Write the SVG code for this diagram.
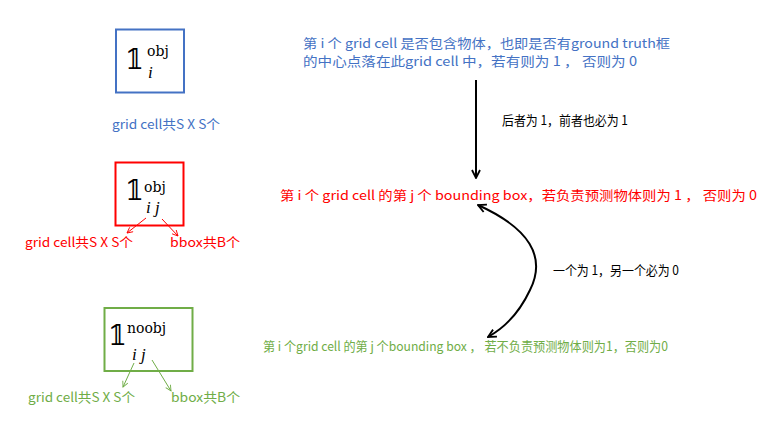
<svg xmlns="http://www.w3.org/2000/svg" width="779" height="422" viewBox="0 0 779 422">
<defs>
<style>
.t{font-family:"Noto Sans CJK SC","Noto Sans",sans-serif;font-size:13px}
.m{font-family:"DejaVu Serif","Liberation Serif",serif}
.mi{font-family:"Liberation Serif","DejaVu Serif",serif;font-style:italic}
.blue{fill:#4472C4}.red{fill:#FF0000}.green{fill:#70AD47}.blk{fill:#000}
</style>
<marker id="ar" viewBox="0 0 10 10" refX="9" refY="5" markerWidth="7" markerHeight="7" orient="auto-start-reverse" markerUnits="userSpaceOnUse"><path d="M1,1 L9,5 L1,9" fill="none" stroke="#FF0000" stroke-width="1.3"/></marker>
<marker id="ag" viewBox="0 0 10 10" refX="9" refY="5" markerWidth="7" markerHeight="7" orient="auto-start-reverse" markerUnits="userSpaceOnUse"><path d="M1,1 L9,5 L1,9" fill="none" stroke="#70AD47" stroke-width="1.3"/></marker>
<marker id="ak" viewBox="0 0 10 10" refX="9" refY="5" markerWidth="10" markerHeight="10" orient="auto-start-reverse" markerUnits="userSpaceOnUse"><path d="M1,1 L9,5 L1,9" fill="none" stroke="#000" stroke-width="1.8"/></marker>
</defs>
<rect width="779" height="422" fill="#fff"/>

<g id="node-obj-i">
<rect x="116" y="29.5" width="68" height="63" fill="none" stroke="#4472C4" stroke-width="2"/>
<text class="m" x="125" y="69" font-size="27">𝟙</text>
<text class="m" x="147" y="56" font-size="14">obj</text>
<text class="mi" x="148" y="78" font-size="17">i</text>
<text class="t blue" x="112" y="129" textLength="108" lengthAdjust="spacingAndGlyphs">grid cell共S X S个</text>
</g>

<g id="node-obj-ij">
<rect x="115.5" y="162.5" width="68" height="63" fill="none" stroke="#FF0000" stroke-width="2"/>
<text class="m" x="125" y="200" font-size="27">𝟙</text>
<text class="m" x="144" y="192" font-size="14">obj</text>
<text class="mi" x="146" y="213" font-size="17">i j</text>
<text class="t red" x="25" y="247" textLength="108" lengthAdjust="spacingAndGlyphs">grid cell共S X S个</text>
<text class="t red" x="170" y="247" textLength="70" lengthAdjust="spacingAndGlyphs">bbox共B个</text>
</g>

<g id="node-noobj-ij">
<rect x="104.5" y="308" width="88" height="63" fill="none" stroke="#70AD47" stroke-width="2"/>
<text class="m" x="108" y="345" font-size="27">𝟙</text>
<text class="m" x="127" y="333" font-size="14">noobj</text>
<text class="mi" x="132" y="360" font-size="17">i j</text>
<text class="t green" x="28" y="402" textLength="107" lengthAdjust="spacingAndGlyphs">grid cell共S X S个</text>
<text class="t green" x="171" y="402" textLength="69" lengthAdjust="spacingAndGlyphs">bbox共B个</text>
</g>

<g id="text-top">
<text class="t blue" x="303" y="48" font-size="13.5" textLength="367" lengthAdjust="spacingAndGlyphs">第 i 个 grid cell 是否包含物体，也即是否有ground truth框</text>
<text class="t blue" x="303" y="66" font-size="13.5" textLength="334" lengthAdjust="spacingAndGlyphs">的中心点落在此grid cell 中，若有则为 1 ， 否则为 0</text>
</g>

<g id="text-mid">
<text class="t red" x="280" y="200" font-size="14" textLength="477" lengthAdjust="spacingAndGlyphs">第 i 个 grid cell 的第 j 个 bounding box，若负责预测物体则为 1 ， 否则为 0</text>
</g>

<g id="text-bot">
<text class="t green" x="263" y="351" font-size="13" textLength="405" lengthAdjust="spacingAndGlyphs">第 i 个grid cell 的第 j 个bounding box ， 若不负责预测物体则为1，否则为0</text>
</g>

<g id="connectors">
<line x1="146" y1="218" x2="127" y2="233" stroke="#FF0000" stroke-width="1" marker-end="url(#ar)"/>
<line x1="162" y1="219" x2="178" y2="236" stroke="#FF0000" stroke-width="1" marker-end="url(#ar)"/>
<line x1="134" y1="363" x2="123" y2="387" stroke="#70AD47" stroke-width="1" marker-end="url(#ag)"/>
<line x1="152" y1="360" x2="171" y2="391" stroke="#70AD47" stroke-width="1" marker-end="url(#ag)"/>
<line x1="476" y1="80" x2="476" y2="178" stroke="#000" stroke-width="2" marker-end="url(#ak)"/>
<path d="M478,205 Q555,240 530,290 Q515,322 488,337" fill="none" stroke="#000" stroke-width="2" marker-start="url(#ak)" marker-end="url(#ak)"/>
<text class="t blk" x="502" y="125" font-size="11" textLength="126" lengthAdjust="spacingAndGlyphs">后者为 1，前者也必为 1</text>
<text class="t blk" x="553" y="275" font-size="11" textLength="126" lengthAdjust="spacingAndGlyphs">一个为 1，另一个必为 0</text>
</g>
</svg>
